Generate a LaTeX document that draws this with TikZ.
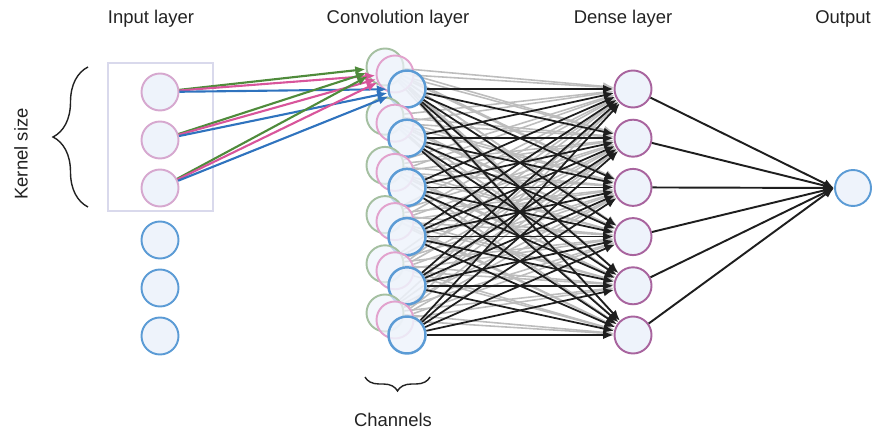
\documentclass[tikz,border=0pt]{standalone}
\usepackage{fontspec}
\setmainfont{Liberation Sans}
\usepackage{tikz}
\usetikzlibrary{arrows.meta, decorations.pathreplacing}
\definecolor{nodefill}{HTML}{EEF3FB}
\definecolor{kernpink}{HTML}{D6A8CF}
\definecolor{unitblue}{HTML}{5B9BD5}
\definecolor{densepurple}{HTML}{A8649E}
\definecolor{chgreen}{HTML}{A5C0A1}
\definecolor{chpink}{HTML}{E2A2CD}
\definecolor{boxlilac}{HTML}{D9D9EC}
\definecolor{wgreen}{HTML}{4F8B3B}
\definecolor{wpink}{HTML}{D8559B}
\definecolor{wblue}{HTML}{2F73BE}
\definecolor{wgrey}{HTML}{BDBDBD}
\definecolor{wblack}{HTML}{1E1E1E}
\definecolor{labeltext}{HTML}{222222}
\pgfdeclarelayer{bg}
\pgfsetlayers{bg,main}

\begin{document}
\begin{tikzpicture}[font=\fontsize{10.5}{12}\selectfont, text=labeltext,
  unit/.style={circle, fill=nodefill, line width=1.1pt, minimum size=0.74cm, inner sep=0pt},
  wire/.style={-{Latex[length=2.1mm,width=1.7mm]}, line width=1pt}]
  \useasboundingbox (0,0) rectangle (17.44,8.66);

  % Input layer
  \foreach \i/\y in {1/6.82, 2/5.86, 3/4.90}
    \node[unit, draw=kernpink] (i\i) at (3.2,\y) {};
  \foreach \i/\y in {4/3.86, 5/2.90, 6/1.94}
    \node[unit, draw=unitblue] (i\i) at (3.2,\y) {};
  \draw[boxlilac, line width=0.8pt] (2.16,4.44) rectangle (4.26,7.40);

  % Kernel brace
  \draw[labeltext, line width=0.8pt, decorate, decoration={brace, amplitude=0.7cm}]
    (1.76,4.52) -- (1.76,7.32);
  \node[rotate=90] (kernlab) at (0.42,5.58) {Kernel size};

  % Convolution layer (three channels per position)
  \foreach \i in {1,...,6} {
    \pgfmathsetmacro{\y}{6.88-0.984*(\i-1)}
    \node[unit, draw=chgreen, fill opacity=0.7] (g\i) at (7.70,\y+0.44) {};
    \node[unit, draw=chpink, fill opacity=0.7] (p\i) at (7.90,\y+0.30) {};
    \node[unit, draw=unitblue, line width=1.4pt, fill opacity=0.85] (c\i) at (8.14,\y) {};
    \node[unit, draw=densepurple] (d\i) at (12.66,\y) {};
  }

  % Output
  \node[unit, draw=unitblue, minimum size=0.72cm] (out) at (17.06,4.90) {};

  % Conv -> dense weights
  \begin{pgfonlayer}{bg}
    \foreach \i in {1,...,6}
      \foreach \j in {1,...,6} {
        \draw[wire, wgrey, line width=0.9pt] (g\i) -- (d\j);
        \draw[wire, wgrey, line width=0.9pt] (p\i) -- (d\j);
      }
    \foreach \i in {1,...,6}
      \foreach \j in {1,...,6}
        \draw[wire, wblack] (c\i) -- (d\j);
  \end{pgfonlayer}

  % Kernel -> first position, one colour per channel
  \foreach \k in {1,2,3} {
    \draw[wire, wgreen, line width=1.2pt] (i\k) -- (g1);
    \draw[wire, wpink, line width=1.2pt] (i\k) -- (p1);
    \draw[wire, wblue, line width=1.2pt] (i\k) -- (c1);
  }

  % Dense -> output
  \foreach \i in {1,...,6}
    \draw[wire, wblack, line width=1.1pt] (d\i) -- (out.west);

  % Channels brace
  \draw[labeltext, line width=0.8pt, decorate, decoration={brace, amplitude=0.28cm}]
    (8.60,1.12) -- (7.30,1.12);
  \node[anchor=base] (chlab) at (7.86,0.14) {Channels};

  % Layer titles
  \node[anchor=base] (inlab) at (3.02,8.18) {Input layer};
  \node[anchor=base] (convlab) at (7.96,8.18) {Convolution layer};
  \node[anchor=base] (denselab) at (12.46,8.18) {Dense layer};
  \node[anchor=base east, inner xsep=0pt] (outlab) at (17.42,8.18) {Output};
\end{tikzpicture}
\end{document}
